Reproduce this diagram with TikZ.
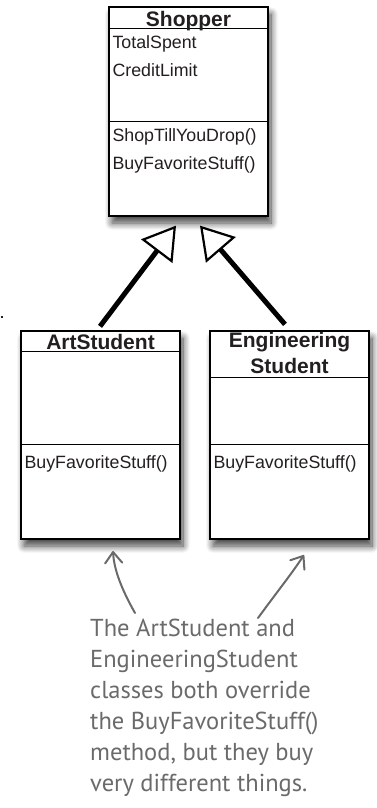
\documentclass[tikz,border=0pt]{standalone}
\usepackage{fontspec}
\setmainfont{Liberation Sans}
\newfontfamily\handfont{PT Sans}
\usetikzlibrary{arrows.meta,shadows.blur}
\definecolor{ink}{HTML}{231F20}
\definecolor{pencil}{HTML}{6A6A6A}
\begin{document}
\begin{tikzpicture}[x=1pt,y=-1pt,
  classbox/.style={draw=black, line width=1.3pt, fill=white, minimum width=159pt,
    inner sep=0pt, blur shadow={shadow xshift=3pt, shadow yshift=-7pt,
    shadow blur steps=10, shadow opacity=75, shadow blur radius=7pt}},
  sepline/.style={draw=black, line width=1.3pt},
  member/.style={anchor=base west, inner sep=0pt, text=ink, font=\fontsize{17.8}{20}\selectfont},
  title/.style={anchor=base, inner sep=0pt, text=ink, font=\bfseries\fontsize{21}{26}\selectfont, align=center},
  inherit/.style={line width=5pt, draw=black,
    -{Triangle[length=32pt, width=39pt, line width=2.2pt, fill=white]}},
  notearrow/.style={draw=pencil, line width=2pt, line cap=round,
    -{Straight Barb[length=11pt, width=17pt, line width=2pt, round]}},
  notetext/.style={anchor=north west, inner sep=0pt, text=pencil, align=left,
    font=\handfont\fontsize{24.5}{31}\selectfont}
]
\useasboundingbox (0,0) rectangle (377,808);

% Shopper
\node[classbox, minimum height=209pt] (shopper) at (188.5,111.5) {};
\draw[sepline] ([yshift=-22pt]shopper.north west) -- ([yshift=-22pt]shopper.north east);
\draw[sepline] ([yshift=-115pt]shopper.north west) -- ([yshift=-115pt]shopper.north east);
\node[title] (shoppername) at ([shift={(0,20)}]shopper.north) {Shopper};
\node[member] (totalspent) at ([shift={(4,42)}]shopper.north west) {TotalSpent};
\node[member] (creditlimit) at ([shift={(4,70)}]shopper.north west) {CreditLimit};
\node[member] (shoptill) at ([shift={(4,135)}]shopper.north west) {ShopTillYouDrop()};
\node[member] (buyfav) at ([shift={(4,163)}]shopper.north west) {BuyFavoriteStuff()};

% ArtStudent
\node[classbox, minimum height=208pt] (art) at (100.5,435) {};
\draw[sepline] ([yshift=-21pt]art.north west) -- ([yshift=-21pt]art.north east);
\draw[sepline] ([yshift=-114pt]art.north west) -- ([yshift=-114pt]art.north east);
\node[title] (artname) at ([shift={(0,19)}]art.north) {ArtStudent};
\node[member] (artbuy) at ([shift={(4,138)}]art.north west) {BuyFavoriteStuff()};

% EngineeringStudent
\node[classbox, minimum height=208pt] (eng) at (289.5,435) {};
\draw[sepline] ([yshift=-47pt]eng.north west) -- ([yshift=-47pt]eng.north east);
\draw[sepline] ([yshift=-114pt]eng.north west) -- ([yshift=-114pt]eng.north east);
\node[title] (engname) at ([shift={(0,43)}]eng.north) {Engineering\\Student};
\node[member] (engbuy) at ([shift={(4,138)}]eng.north west) {BuyFavoriteStuff()};

% inheritance
\coordinate (tipL) at ([shift={(-12.5,9)}]shopper.south);
\coordinate (tipR) at ([shift={(11.5,9)}]shopper.south);
\draw[inherit] ([shift={(-0.5,-4)}]art.north) -- (tipL);
\draw[inherit] ([shift={(-4.5,-6)}]eng.north) -- (tipR);

% annotation
\node[notetext] (note) at (90,619) {The ArtStudent and\\EngineeringStudent\\classes both override\\the BuyFavoriteStuff()\\method, but they buy\\very different things.};
\coordinate (noteL) at (135,613);
\coordinate (noteR) at (258,618);
\coordinate (artpt) at (113,551);
\coordinate (engpt) at (304,555);
\draw[notearrow] (noteL) .. controls (122,590) and (114,570) .. (artpt);
\draw[notearrow] (noteR) .. controls (274,596) and (290,576) .. (engpt);

% stray dot
\fill[ink] (1,316) rectangle (3.2,318.2);
\end{tikzpicture}
\end{document}
